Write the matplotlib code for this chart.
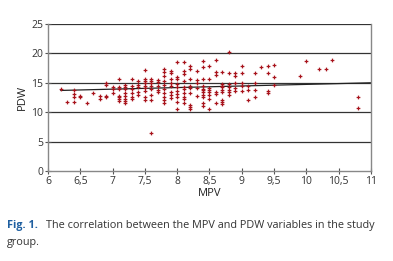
import numpy as np
import matplotlib.pyplot as plt
from matplotlib.ticker import FuncFormatter

plt.rcParams['font.family'] = ['Open Sans', 'DejaVu Sans']

# MPV columns and PDW values
mpv_cols = [6.2, 6.3, 6.4, 6.5, 6.6, 6.7, 6.8, 6.9, 7.0, 7.1, 7.2, 7.3, 7.4, 7.5,
            7.6, 7.7, 7.8, 7.9, 8.0, 8.1, 8.2, 8.3, 8.4, 8.5, 8.6, 8.7, 8.8,
            8.9, 9.0, 9.1, 9.2, 9.3, 9.4, 9.5, 9.9, 10.0, 10.2, 10.3, 10.4, 10.8]
pdw_cols = [
    [13.9],
    [11.8],
    [13.8, 13.1, 12.5, 11.8],
    [12.8, 12.6],
    [11.6],
    [13.2],
    [12.8, 12.3],
    [15.0, 14.6, 12.8, 12.6],
    [14.2, 13.9, 13.2],
    [15.6, 14.2, 13.9, 12.8, 12.5, 12.2, 11.9],
    [14.6, 14.3, 13.9, 13.3, 12.8, 12.3, 11.9, 11.5],
    [15.6, 14.5, 13.9, 13.2, 12.6, 12.3],
    [15.3, 14.6, 14.2, 13.4, 12.9],
    [17.2, 15.7, 15.3, 15.0, 14.5, 14.1, 13.6, 12.6, 12.1],
    [15.7, 15.3, 14.9, 14.4, 14.0, 13.0, 12.0, 6.5],
    [15.4, 15.2, 14.4, 13.7, 13.4],
    [17.3, 16.8, 16.1, 15.3, 14.6, 13.9, 13.3, 12.5, 12.0, 11.6],
    [17.0, 16.6, 15.7, 14.9, 14.5, 13.4, 12.9, 12.4],
    [18.5, 16.0, 15.6, 14.8, 14.2, 13.6, 13.1, 12.6, 11.8, 10.5],
    [18.5, 17.0, 16.5, 15.3, 14.2, 13.9, 13.3, 12.6, 12.3, 11.6],
    [17.9, 17.4, 15.7, 14.5, 14.1, 13.2, 11.2, 10.8, 10.5],
    [17.0, 15.4, 14.9, 14.1, 12.7],
    [18.7, 17.7, 15.7, 14.5, 14.0, 13.7, 13.4, 13.0, 12.6, 11.6, 11.1],
    [17.9, 15.6, 14.1, 13.7, 13.4, 13.0, 12.2, 10.5],
    [18.8, 16.8, 16.4, 13.4, 13.1, 11.6],
    [16.9, 14.8, 14.4, 14.2, 13.8, 13.5, 12.1, 11.7, 11.4],
    [20.3, 16.7, 14.8, 14.2, 13.8, 13.4, 12.9],
    [16.7, 16.1, 14.9, 14.1, 13.6],
    [17.8, 16.7, 14.9, 14.4, 13.6],
    [14.4, 13.8, 12.0],
    [16.7, 14.9, 13.8, 12.6],
    [17.7],
    [17.9, 16.7, 13.6, 13.2],
    [18.1, 15.9, 14.6],
    [16.2],
    [18.7],
    [17.4],
    [17.3],
    [18.8],
    [12.6, 10.7],
]

# trend line as drawn in the figure (ends)
trend_mpv = [6.2, 11.0]
trend_pdw = [13.7, 15.0]

mpv = np.concatenate([[m] * len(p) for m, p in zip(mpv_cols, pdw_cols)])
pdw = np.concatenate(pdw_cols)

fig = plt.figure(figsize=(3.93, 2.61), dpi=100)
ax = fig.add_axes([0.122, 0.345, 0.822, 0.563])

for yv in [5, 10, 15, 20, 25]:
    ax.axhline(yv, color='#333333', lw=0.9, zorder=1)

ax.plot(mpv, pdw, linestyle='none', marker='P', markersize=2.7,
        color='#a8141c', markeredgewidth=0, zorder=3)

ax.plot(trend_mpv, trend_pdw, color='#222222', lw=0.9, zorder=2)

ax.set_xlim(6, 11)
ax.set_ylim(0, 25)
ax.set_xticks(np.arange(6, 11.01, 0.5))
ax.set_yticks([0, 5, 10, 15, 20, 25])
fmt = FuncFormatter(lambda v, p: ('%g' % v).replace('.', ','))
ax.xaxis.set_major_formatter(fmt)
ax.tick_params(direction='inout', length=4, width=0.8, color='#555555',
               labelsize=7.5, labelcolor='#333333', pad=1.5)
for s in ['left', 'right', 'bottom']:
    ax.spines[s].set_color('#888888')
    ax.spines[s].set_linewidth(1.0)
ax.spines['top'].set_visible(False)

ax.set_xlabel('MPV', fontsize=8, color='#222222', labelpad=1)
ax.set_ylabel('PDW', fontsize=8, color='#222222', labelpad=2)

fig.text(0.018, 0.125, 'Fig. 1.', fontsize=7.8, fontweight='bold', color='#1f5fa0')
fig.text(0.117, 0.125, 'The correlation between the MPV and PDW variables in the study',
         fontsize=7.8, color='#333333')
fig.text(0.018, 0.062, 'group.', fontsize=7.8, color='#333333')

fig.savefig('out.png', dpi=100)
